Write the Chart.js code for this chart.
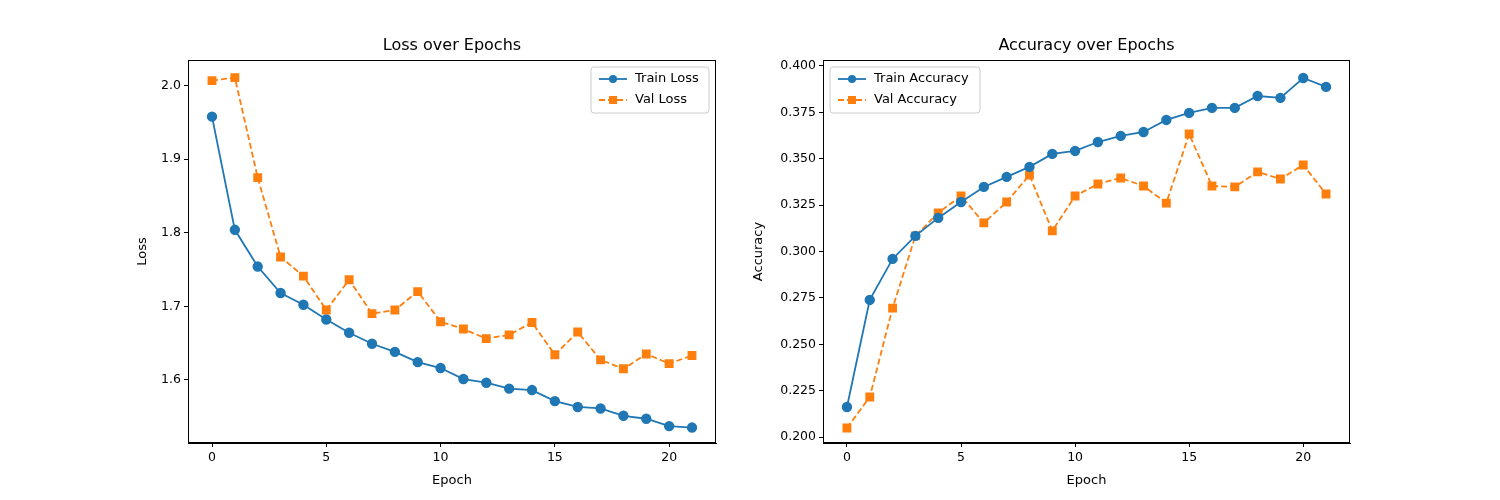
<!DOCTYPE html>
<html>
<head>
<meta charset="utf-8">
<script src="https://cdn.jsdelivr.net/npm/chart.js@4"></script>
<style>
  body { margin: 0; background: #fff; }
  #wrap { position: relative; width: 1500px; height: 500px; }
  canvas { position: absolute; top: 0; }
</style>
</head>
<body>
<div id="wrap">
  <canvas id="lossChart" style="left:133px" width="607" height="490"></canvas>
  <canvas id="accChart" style="left:749px" width="625" height="490"></canvas>
</div>
<script>
const epochs = [0,1,2,3,4,5,6,7,8,9,10,11,12,13,14,15,16,17,18,19,20,21]
const trainLoss = [1.958,1.804,1.754,1.718,1.702,1.682,1.664,1.649,1.638,1.624,1.616,1.601,1.596,1.588,1.586,1.571,1.563,1.561,1.551,1.547,1.537,1.535]
const valLoss = [2.007,2.011,1.875,1.767,1.741,1.695,1.736,1.690,1.695,1.720,1.679,1.669,1.656,1.661,1.678,1.634,1.665,1.627,1.615,1.635,1.622,1.633]
const trainAcc = [0.2162,0.2739,0.2960,0.3084,0.3181,0.3267,0.3348,0.3402,0.3456,0.3526,0.3542,0.3590,0.3623,0.3644,0.3709,0.3747,0.3774,0.3774,0.3838,0.3828,0.3935,0.3887]
const valAcc = [0.2049,0.2216,0.2695,0.3084,0.3208,0.3299,0.3154,0.3267,0.3412,0.3111,0.3299,0.3364,0.3396,0.3353,0.3261,0.3633,0.3353,0.3348,0.3429,0.3391,0.3466,0.3310]
const epochTicks = [0,5,10,15,20]
const lossTicks = [1.6,1.7,1.8,1.9,2.0]
const accTicks = [0.2,0.225,0.25,0.275,0.3,0.325,0.35,0.375,0.4]

const BLUE = '#1f77b4'
const ORANGE = '#ff7f0e'
const FONT = 'DejaVu Sans'
Chart.defaults.font.family = FONT
Chart.defaults.color = '#000'

// title, frame and in-axes legend, drawn like matplotlib
const mplDecor = {
  id: 'mplDecor',
  afterDraw(chart, args, opts) {
    const { ctx, chartArea: a } = chart
    ctx.save()
    ctx.strokeStyle = '#000'
    ctx.lineWidth = 1
    ctx.strokeRect(a.left + 0.5, a.top + 0.5, a.width - 1, a.height - 1)
    ctx.fillStyle = '#000'
    ctx.font = '16px ' + FONT
    ctx.textAlign = 'center'
    ctx.textBaseline = 'bottom'
    ctx.fillText(opts.title, (a.left + a.right) / 2, a.top - 6)

    ctx.font = '13px ' + FONT
    const w = opts.legendWidth, h = 46
    const x = opts.legendLeft ? a.left + 7 : a.right - w - 7
    const y = a.top + 7
    ctx.fillStyle = 'rgba(255,255,255,0.8)'
    ctx.strokeStyle = '#ccc'
    ctx.beginPath()
    ctx.roundRect(x, y, w, h, 3)
    ctx.fill(); ctx.stroke()
    chart.data.datasets.forEach((ds, i) => {
      const ly = y + 12 + i * 21
      ctx.strokeStyle = ds.borderColor
      ctx.lineWidth = 1.8
      ctx.setLineDash(ds.borderDash || [])
      ctx.beginPath(); ctx.moveTo(x + 8, ly); ctx.lineTo(x + 36, ly); ctx.stroke()
      ctx.setLineDash([])
      ctx.fillStyle = ds.borderColor
      if (ds.pointStyle === 'rect') ctx.fillRect(x + 18, ly - 4, 8, 8)
      else { ctx.beginPath(); ctx.arc(x + 22, ly, 4, 0, Math.PI * 2); ctx.fill() }
      ctx.fillStyle = '#000'
      ctx.textAlign = 'left'
      ctx.textBaseline = 'middle'
      ctx.fillText(ds.label, x + 44, ly)
    })
    ctx.restore()
  }
}

function makeChart(id, title, yLabel, trainLabel, valLabel, train, val, yMin, yMax, yTicks, yFmt, yWidth, legendLeft, legendWidth) {
  return new Chart(document.getElementById(id), {
    type: 'line',
    data: {
      labels: epochs,
      datasets: [
        { label: trainLabel, data: train, borderColor: BLUE, backgroundColor: BLUE,
          borderWidth: 1.8, pointStyle: 'circle', pointRadius: 4.3, tension: 0 },
        { label: valLabel, data: val, borderColor: ORANGE, backgroundColor: ORANGE,
          borderWidth: 1.8, borderDash: [6, 3], pointStyle: 'rect', pointRadius: 5, tension: 0 }
      ]
    },
    options: {
      responsive: false,
      animation: false,
      layout: { padding: { top: 60, right: 24, left: 0, bottom: 0 } },
      plugins: {
        legend: { display: false },
        tooltip: { enabled: false },
        mplDecor: { title, legendLeft, legendWidth }
      },
      scales: {
        x: {
          type: 'linear', min: -1.05, max: 22.05,
          afterBuildTicks: s => { s.ticks = epochTicks.map(v => ({ value: v })) },
          afterFit: s => { s.height = 47 },
          grid: { drawOnChartArea: false, tickLength: 4, color: '#000' },
          border: { color: '#000' },
          ticks: { font: { size: 12.5 }, padding: 3, maxRotation: 0 },
          title: { display: true, text: 'Epoch', font: { size: 13 }, padding: 2 }
        },
        y: {
          min: yMin, max: yMax,
          afterBuildTicks: s => { s.ticks = yTicks.map(v => ({ value: v })) },
          afterFit: s => { s.width = yWidth },
          grid: { drawOnChartArea: false, tickLength: 4, color: '#000' },
          border: { color: '#000' },
          ticks: { font: { size: 12.5 }, padding: 3, callback: yFmt },
          title: { display: true, text: yLabel, font: { size: 13 }, padding: 2 }
        }
      }
    },
    plugins: [mplDecor]
  })
}

makeChart('lossChart', 'Loss over Epochs', 'Loss', 'Train Loss', 'Val Loss',
  trainLoss, valLoss, 1.514, 2.035, lossTicks, v => v.toFixed(1), 55, false, 118)
makeChart('accChart', 'Accuracy over Epochs', 'Accuracy', 'Train Accuracy', 'Val Accuracy',
  trainAcc, valAcc, 0.1968, 0.4032, accTicks, v => v.toFixed(3), 74, true, 150)
</script>
</body>
</html>
